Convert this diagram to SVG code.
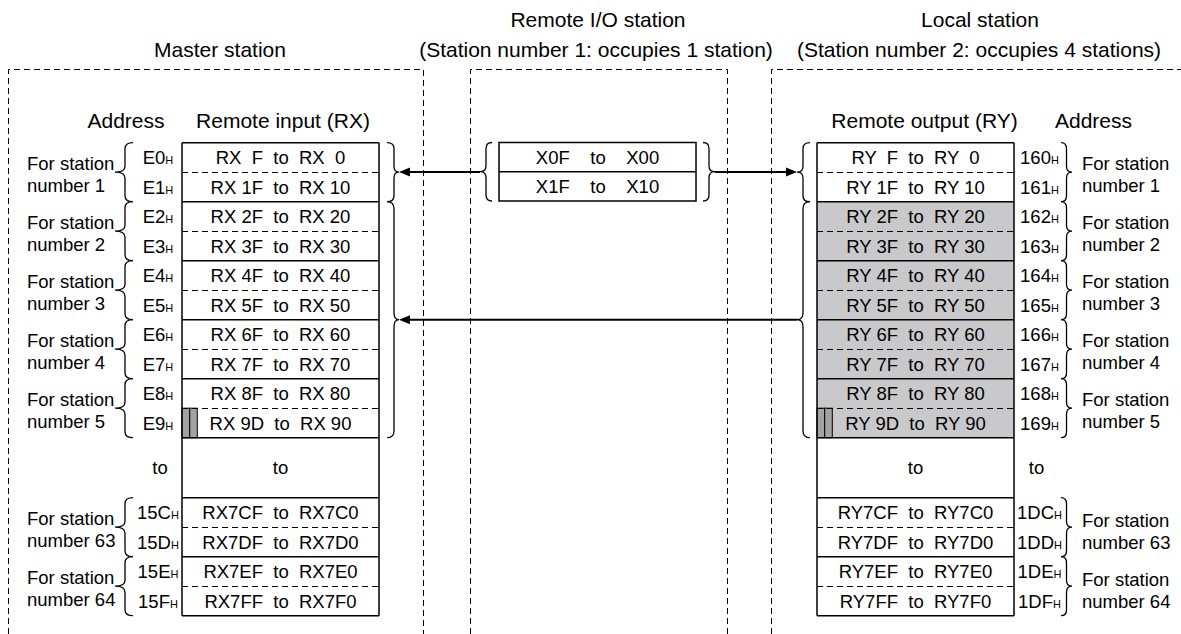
<svg xmlns="http://www.w3.org/2000/svg" width="1181" height="634" viewBox="0 0 1181 634">
<style>
text{font-family:"Liberation Sans",Arial,Helvetica,sans-serif;fill:#000}
.title{font-size:21px;text-anchor:middle}
.cell{font-size:18.5px;text-anchor:middle}
.lbl{font-size:18.5px}
.adr{font-size:18.5px;text-anchor:middle}
.sub{font-size:11px}
.frame{fill:none;stroke:#000;stroke-width:1;stroke-dasharray:6 4}
.solid{stroke:#000;stroke-width:1.5;fill:none}
.dash{stroke:#000;stroke-width:1;stroke-dasharray:6 4;fill:none}
.brace{fill:none;stroke:#000;stroke-width:1.3}
.conn{stroke:#000;stroke-width:2;fill:none}
.grey{fill:#c9c9cb}
.cellg{fill:#a3a3a3;stroke:#000;stroke-width:1}
</style>
<defs>
<marker id="ah" markerUnits="userSpaceOnUse" markerWidth="12" markerHeight="10" refX="7" refY="5" orient="auto">
<path d="M0,0.5 L11,5 L0,9.5 Z" fill="#000"/>
</marker>
</defs>

<g id="master">
<path class="frame" d="M8.5,634 V69.5 H423.5 V634"/>
<text class="title" x="220" y="57">Master station</text>
<text class="title" x="126" y="127.5">Address</text>
<text class="title" x="283" y="127.5">Remote input (RX)</text>
<g id="master-table">
<rect x="182" y="408.2" width="7.7" height="29.5" class="cellg"/>
<rect x="189.7" y="408.2" width="7.6" height="29.5" class="cellg"/>
<path class="solid" d="M182,142.7 V615.7 M379,142.7 V615.7 M182,142.7 H379 M182,201.7 H379 M182,260.7 H379 M182,319.7 H379 M182,378.7 H379 M182,437.7 H379 M182,497.7 H379 M182,556.7 H379 M182,615.7 H379"/>
<path class="dash" d="M182,172.5 H379 M182,231.5 H379 M182,290.5 H379 M182,349.5 H379 M182,408.5 H379 M182,527.5 H379 M182,586.5 H379"/>
<text class="cell" x="280.5" y="164" xml:space="preserve">RX  F  to  RX  0</text>
<text class="cell" x="280.5" y="193.5" xml:space="preserve">RX 1F  to  RX 10</text>
<text class="cell" x="280.5" y="223" xml:space="preserve">RX 2F  to  RX 20</text>
<text class="cell" x="280.5" y="252.5" xml:space="preserve">RX 3F  to  RX 30</text>
<text class="cell" x="280.5" y="282" xml:space="preserve">RX 4F  to  RX 40</text>
<text class="cell" x="280.5" y="311.5" xml:space="preserve">RX 5F  to  RX 50</text>
<text class="cell" x="280.5" y="341" xml:space="preserve">RX 6F  to  RX 60</text>
<text class="cell" x="280.5" y="370.5" xml:space="preserve">RX 7F  to  RX 70</text>
<text class="cell" x="280.5" y="400" xml:space="preserve">RX 8F  to  RX 80</text>
<text class="cell" x="280.5" y="429.5" xml:space="preserve">RX 9D  to  RX 90</text>
<text class="cell" x="280.5" y="474">to</text>
<text class="cell" x="280.5" y="519" xml:space="preserve">RX7CF  to  RX7C0</text>
<text class="cell" x="280.5" y="548.5" xml:space="preserve">RX7DF  to  RX7D0</text>
<text class="cell" x="280.5" y="578" xml:space="preserve">RX7EF  to  RX7E0</text>
<text class="cell" x="280.5" y="607.5" xml:space="preserve">RX7FF  to  RX7F0</text>
</g>
<g id="master-address">
<text class="adr" x="158" y="164">E0<tspan class="sub">H</tspan></text>
<text class="adr" x="158" y="193.5">E1<tspan class="sub">H</tspan></text>
<text class="adr" x="158" y="223">E2<tspan class="sub">H</tspan></text>
<text class="adr" x="158" y="252.5">E3<tspan class="sub">H</tspan></text>
<text class="adr" x="158" y="282">E4<tspan class="sub">H</tspan></text>
<text class="adr" x="158" y="311.5">E5<tspan class="sub">H</tspan></text>
<text class="adr" x="158" y="341">E6<tspan class="sub">H</tspan></text>
<text class="adr" x="158" y="370.5">E7<tspan class="sub">H</tspan></text>
<text class="adr" x="158" y="400">E8<tspan class="sub">H</tspan></text>
<text class="adr" x="158" y="429.5">E9<tspan class="sub">H</tspan></text>
<text class="adr" x="160" y="474">to</text>
<text class="adr" x="158" y="519">15C<tspan class="sub">H</tspan></text>
<text class="adr" x="158" y="548.5">15D<tspan class="sub">H</tspan></text>
<text class="adr" x="158" y="578">15E<tspan class="sub">H</tspan></text>
<text class="adr" x="158" y="607.5">15F<tspan class="sub">H</tspan></text>
</g>
<g id="master-stations">
<path class="brace" d="M133,142.7 Q125,142.7 125,148.7 V166.2 Q125,172.2 115,172.2 Q125,172.2 125,178.2 V195.7 Q125,201.7 133,201.7"/>
<path class="brace" d="M133,201.7 Q125,201.7 125,207.7 V225.2 Q125,231.2 115,231.2 Q125,231.2 125,237.2 V254.7 Q125,260.7 133,260.7"/>
<path class="brace" d="M133,260.7 Q125,260.7 125,266.7 V284.2 Q125,290.2 115,290.2 Q125,290.2 125,296.2 V313.7 Q125,319.7 133,319.7"/>
<path class="brace" d="M133,319.7 Q125,319.7 125,325.7 V343.2 Q125,349.2 115,349.2 Q125,349.2 125,355.2 V372.7 Q125,378.7 133,378.7"/>
<path class="brace" d="M133,378.7 Q125,378.7 125,384.7 V402.2 Q125,408.2 115,408.2 Q125,408.2 125,414.2 V431.7 Q125,437.7 133,437.7"/>
<path class="brace" d="M133,497.7 Q125,497.7 125,503.7 V521.2 Q125,527.2 115,527.2 Q125,527.2 125,533.2 V550.7 Q125,556.7 133,556.7"/>
<path class="brace" d="M133,556.7 Q125,556.7 125,562.7 V580.2 Q125,586.2 115,586.2 Q125,586.2 125,592.2 V609.7 Q125,615.7 133,615.7"/>
<text class="lbl" x="27" y="170.2">For station</text><text class="lbl" x="27" y="192.2">number 1</text>
<text class="lbl" x="27" y="229.2">For station</text><text class="lbl" x="27" y="251.2">number 2</text>
<text class="lbl" x="27" y="288.2">For station</text><text class="lbl" x="27" y="310.2">number 3</text>
<text class="lbl" x="27" y="347.2">For station</text><text class="lbl" x="27" y="369.2">number 4</text>
<text class="lbl" x="27" y="406.2">For station</text><text class="lbl" x="27" y="428.2">number 5</text>
<text class="lbl" x="27" y="525.2">For station</text><text class="lbl" x="27" y="547.2">number 63</text>
<text class="lbl" x="27" y="584.2">For station</text><text class="lbl" x="27" y="606.2">number 64</text>
</g>
<g id="master-groups">
<path class="brace" d="M387,142.7 Q394,142.7 394,148.7 V166.2 Q394,172.2 399,172.2 Q394,172.2 394,178.2 V195.7 Q394,201.7 387,201.7"/>
<path class="brace" d="M387,201.7 Q394,201.7 394,208.7 V312.7 Q394,319.7 399,319.7 Q394,319.7 394,326.7 V430.7 Q394,437.7 387,437.7"/>
</g>
</g>

<g id="remote">
<path class="frame" d="M470.5,634 V69.5 H727.5 V634"/>
<text class="title" x="598" y="27">Remote I/O station</text>
<text class="title" x="596" y="57">(Station number 1: occupies 1 station)</text>
<g id="remote-table">
<rect x="499" y="142.5" width="197" height="58.5" class="solid"/>
<path class="solid" d="M499,171.7 H696"/>
<text class="cell" x="597.5" y="163.7" xml:space="preserve">X0F    to    X00</text>
<text class="cell" x="597.5" y="193" xml:space="preserve">X1F    to    X10</text>
</g>
<path class="brace" d="M492,142.5 Q486,142.5 486,148.5 V165.7 Q486,171.7 480,171.7 Q486,171.7 486,177.7 V195 Q486,201 492,201"/>
<path class="brace" d="M703,142.5 Q709,142.5 709,148.5 V165.7 Q709,171.7 715,171.7 Q709,171.7 709,177.7 V195 Q709,201 703,201"/>
</g>

<g id="local">
<path class="frame" d="M771.5,634 V69.5 H1185"/>
<text class="title" x="980" y="27">Local station</text>
<text class="title" x="979" y="57">(Station number 2: occupies 4 stations)</text>
<text class="title" x="924.5" y="127.5">Remote output (RY)</text>
<text class="title" x="1093.5" y="127.5">Address</text>
<g id="local-table">
<rect x="817" y="201.7" width="197" height="236" class="grey"/>
<rect x="817" y="408.2" width="7.7" height="29.5" class="cellg"/>
<rect x="824.7" y="408.2" width="7.6" height="29.5" class="cellg"/>
<path class="solid" d="M817,142.7 V615.7 M1014,142.7 V615.7 M817,142.7 H1014 M817,201.7 H1014 M817,260.7 H1014 M817,319.7 H1014 M817,378.7 H1014 M817,437.7 H1014 M817,497.7 H1014 M817,556.7 H1014 M817,615.7 H1014"/>
<path class="dash" d="M817,172.5 H1014 M817,231.5 H1014 M817,290.5 H1014 M817,349.5 H1014 M817,408.5 H1014 M817,527.5 H1014 M817,586.5 H1014"/>
<text class="cell" x="915.5" y="164" xml:space="preserve">RY  F  to  RY  0</text>
<text class="cell" x="915.5" y="193.5" xml:space="preserve">RY 1F  to  RY 10</text>
<text class="cell" x="915.5" y="223" xml:space="preserve">RY 2F  to  RY 20</text>
<text class="cell" x="915.5" y="252.5" xml:space="preserve">RY 3F  to  RY 30</text>
<text class="cell" x="915.5" y="282" xml:space="preserve">RY 4F  to  RY 40</text>
<text class="cell" x="915.5" y="311.5" xml:space="preserve">RY 5F  to  RY 50</text>
<text class="cell" x="915.5" y="341" xml:space="preserve">RY 6F  to  RY 60</text>
<text class="cell" x="915.5" y="370.5" xml:space="preserve">RY 7F  to  RY 70</text>
<text class="cell" x="915.5" y="400" xml:space="preserve">RY 8F  to  RY 80</text>
<text class="cell" x="915.5" y="429.5" xml:space="preserve">RY 9D  to  RY 90</text>
<text class="cell" x="915.5" y="474">to</text>
<text class="cell" x="915.5" y="519" xml:space="preserve">RY7CF  to  RY7C0</text>
<text class="cell" x="915.5" y="548.5" xml:space="preserve">RY7DF  to  RY7D0</text>
<text class="cell" x="915.5" y="578" xml:space="preserve">RY7EF  to  RY7E0</text>
<text class="cell" x="915.5" y="607.5" xml:space="preserve">RY7FF  to  RY7F0</text>
</g>
<g id="local-address">
<text class="adr" x="1039.5" y="164">160<tspan class="sub">H</tspan></text>
<text class="adr" x="1039.5" y="193.5">161<tspan class="sub">H</tspan></text>
<text class="adr" x="1039.5" y="223">162<tspan class="sub">H</tspan></text>
<text class="adr" x="1039.5" y="252.5">163<tspan class="sub">H</tspan></text>
<text class="adr" x="1039.5" y="282">164<tspan class="sub">H</tspan></text>
<text class="adr" x="1039.5" y="311.5">165<tspan class="sub">H</tspan></text>
<text class="adr" x="1039.5" y="341">166<tspan class="sub">H</tspan></text>
<text class="adr" x="1039.5" y="370.5">167<tspan class="sub">H</tspan></text>
<text class="adr" x="1039.5" y="400">168<tspan class="sub">H</tspan></text>
<text class="adr" x="1039.5" y="429.5">169<tspan class="sub">H</tspan></text>
<text class="adr" x="1036.5" y="474">to</text>
<text class="adr" x="1039.5" y="519">1DC<tspan class="sub">H</tspan></text>
<text class="adr" x="1039.5" y="548.5">1DD<tspan class="sub">H</tspan></text>
<text class="adr" x="1039.5" y="578">1DE<tspan class="sub">H</tspan></text>
<text class="adr" x="1039.5" y="607.5">1DF<tspan class="sub">H</tspan></text>
</g>
<g id="local-stations">
<path class="brace" d="M1061,142.7 Q1066.5,142.7 1066.5,148.7 V166.2 Q1066.5,172.2 1072,172.2 Q1066.5,172.2 1066.5,178.2 V195.7 Q1066.5,201.7 1061,201.7"/>
<path class="brace" d="M1061,201.7 Q1066.5,201.7 1066.5,207.7 V225.2 Q1066.5,231.2 1072,231.2 Q1066.5,231.2 1066.5,237.2 V254.7 Q1066.5,260.7 1061,260.7"/>
<path class="brace" d="M1061,260.7 Q1066.5,260.7 1066.5,266.7 V284.2 Q1066.5,290.2 1072,290.2 Q1066.5,290.2 1066.5,296.2 V313.7 Q1066.5,319.7 1061,319.7"/>
<path class="brace" d="M1061,319.7 Q1066.5,319.7 1066.5,325.7 V343.2 Q1066.5,349.2 1072,349.2 Q1066.5,349.2 1066.5,355.2 V372.7 Q1066.5,378.7 1061,378.7"/>
<path class="brace" d="M1061,378.7 Q1066.5,378.7 1066.5,384.7 V402.2 Q1066.5,408.2 1072,408.2 Q1066.5,408.2 1066.5,414.2 V431.7 Q1066.5,437.7 1061,437.7"/>
<path class="brace" d="M1061,497.7 Q1066.5,497.7 1066.5,503.7 V521.2 Q1066.5,527.2 1072,527.2 Q1066.5,527.2 1066.5,533.2 V550.7 Q1066.5,556.7 1061,556.7"/>
<path class="brace" d="M1061,556.7 Q1066.5,556.7 1066.5,562.7 V580.2 Q1066.5,586.2 1072,586.2 Q1066.5,586.2 1066.5,592.2 V609.7 Q1066.5,615.7 1061,615.7"/>
<text class="lbl" x="1082" y="170.2">For station</text><text class="lbl" x="1082" y="192.2">number 1</text>
<text class="lbl" x="1082" y="229.2">For station</text><text class="lbl" x="1082" y="251.2">number 2</text>
<text class="lbl" x="1082" y="288.2">For station</text><text class="lbl" x="1082" y="310.2">number 3</text>
<text class="lbl" x="1082" y="347.2">For station</text><text class="lbl" x="1082" y="369.2">number 4</text>
<text class="lbl" x="1082" y="406.2">For station</text><text class="lbl" x="1082" y="428.2">number 5</text>
<text class="lbl" x="1082" y="527.2">For station</text><text class="lbl" x="1082" y="549.2">number 63</text>
<text class="lbl" x="1082" y="586.2">For station</text><text class="lbl" x="1082" y="608.2">number 64</text>
</g>
<g id="local-groups">
<path class="brace" d="M810,142.7 Q803,142.7 803,148.7 V166.2 Q803,172.2 797,172.2 Q803,172.2 803,178.2 V195.7 Q803,201.7 810,201.7"/>
<path class="brace" d="M810,201.7 Q803,201.7 803,208.7 V312.7 Q803,319.7 797,319.7 Q803,319.7 803,326.7 V430.7 Q803,437.7 810,437.7"/>
</g>
</g>

<g id="connectors">
<path class="conn" d="M480,172 H403" marker-end="url(#ah)"/>
<path class="conn" d="M715,172 H793" marker-end="url(#ah)"/>
<path class="conn" d="M797,319.7 H403" marker-end="url(#ah)"/>
</g>
</svg>
